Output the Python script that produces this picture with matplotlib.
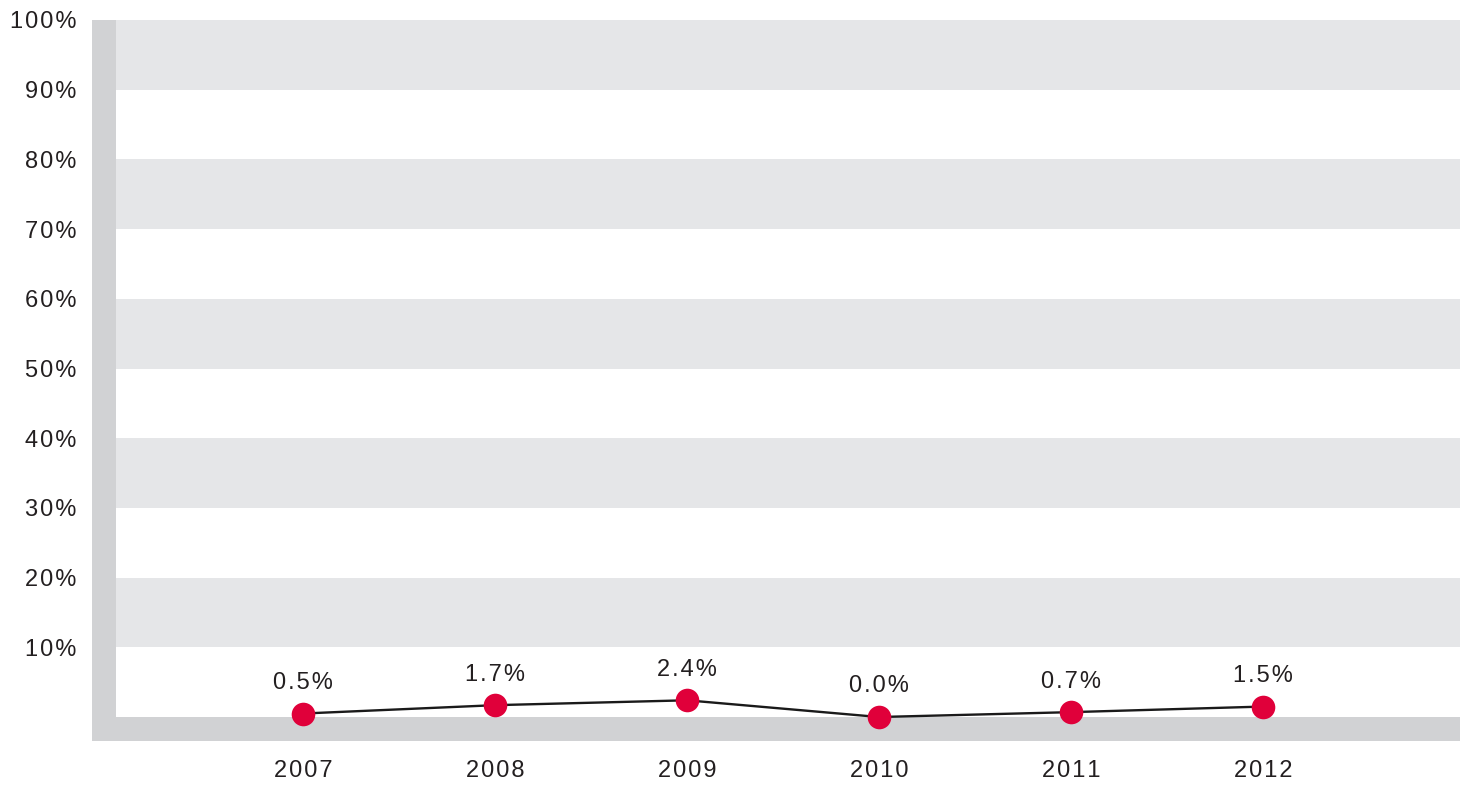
import matplotlib
matplotlib.use("Agg")
from matplotlib import pyplot as plt
from matplotlib.patches import Rectangle

years = ["2007", "2008", "2009", "2010", "2011", "2012"]
values = [0.5, 1.7, 2.4, 0.0, 0.7, 1.5]
y_ticks = [10, 20, 30, 40, 50, 60, 70, 80, 90, 100]
y_tick_labels = ["10%", "20%", "30%", "40%", "50%", "60%", "70%", "80%", "90%", "100%"]
bands = [(10, 20), (30, 40), (50, 60), (70, 80), (90, 100)]

plt.rcParams["font.family"] = ["Liberation Sans", "DejaVu Sans"]
text_color = "#231f20"
band_color = "#e5e6e8"
wall_color = "#d1d2d4"
red = "#e0003a"
fs = 17


def spaced(s):
    # the reference uses wide letter spacing
    return "\u200a".join(s)


W, H = 1463, 785
fig = plt.figure(figsize=(W / 100, H / 100), dpi=100)
# axes spans the grey wall + floor frame
ax = fig.add_axes([92 / W, 1 - 741 / H, (1460 - 92) / W, (741 - 20) / H])

x = list(range(len(years)))
ymin, ymax = -3.44, 100
xmin, xmax = -1.099, 6.026
wall_w = 24 / 192
ax.set_xlim(xmin, xmax)
ax.set_ylim(ymin, ymax)

for lo, hi in bands:
    ax.add_patch(Rectangle((xmin, lo), xmax - xmin, hi - lo, color=band_color, lw=0, zorder=0))
# floor and wall
ax.add_patch(Rectangle((xmin, ymin), xmax - xmin, -ymin, color=wall_color, lw=0, zorder=1))
ax.add_patch(Rectangle((xmin, ymin), wall_w, ymax - ymin, color=wall_color, lw=0, zorder=1))

ax.plot(x, values, color="#1a1a1a", lw=1.7, zorder=3, clip_on=False)
ax.plot(x, values, "o", color=red, markersize=17, markeredgewidth=0, zorder=4, clip_on=False)

for xi, v in zip(x, values):
    ax.annotate(spaced(f"{v:.1f}%"), (xi, v), xytext=(0, 22), textcoords="offset points",
                ha="center", va="center", fontsize=fs, color=text_color)

ax.set_yticks(y_ticks)
ax.set_yticklabels([spaced(t) for t in y_tick_labels])
ax.set_xticks(x)
ax.set_xticklabels([spaced(t) for t in years])
ax.tick_params(axis="y", length=0, pad=11, labelsize=fs, labelcolor=text_color)
ax.tick_params(axis="x", length=0, pad=14, labelsize=fs, labelcolor=text_color)
for s in ax.spines.values():
    s.set_visible(False)

fig.savefig("out.png", dpi=100)
